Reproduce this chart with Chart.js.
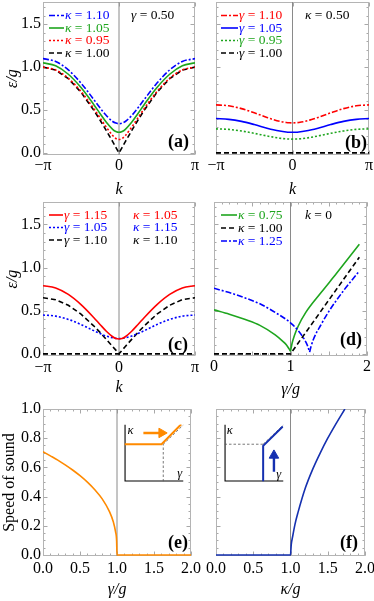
<!DOCTYPE html>
<html lang="en">
<head>
<meta charset="UTF-8">
<meta name="viewport" content="width=device-width, initial-scale=1.0">
<title>Excitation spectra and speed of sound</title>
<script src="https://cdn.jsdelivr.net/npm/chart.js@4"></script>
<style>
  html, body { margin: 0; padding: 0; background: #fff; }
  #figure { position: relative; width: 374px; height: 601px; overflow: hidden; background: #fff; }
  #figure canvas { position: absolute; }
</style>
</head>
<body>
<div id="figure">
  <canvas id="panel-a" width="205" height="200" style="left:0;top:0"></canvas>
  <canvas id="panel-b" width="179" height="200" style="left:195px;top:0"></canvas>
  <canvas id="panel-c" width="205" height="200" style="left:0;top:200px"></canvas>
  <canvas id="panel-d" width="179" height="200" style="left:195px;top:200px"></canvas>
  <canvas id="panel-e" width="205" height="201" style="left:0;top:400px"></canvas>
  <canvas id="panel-f" width="179" height="201" style="left:195px;top:400px"></canvas>
  <canvas id="inset-e" width="72" height="70" style="left:118px;top:418px"></canvas>
  <canvas id="inset-f" width="72" height="70" style="left:218px;top:418px"></canvas>
</div>
<script>
// ---- data ----
const kGrid = [-3.1416, -2.618, -2.0944, -1.5708, -1.0472, -0.7854, -0.5236, -0.2618, -0.1309, 0,
               0.1309, 0.2618, 0.5236, 0.7854, 1.0472, 1.5708, 2.0944, 2.618, 3.1416];
const zeros19 = [0, 0, 0, 0, 0, 0, 0, 0, 0, 0, 0, 0, 0, 0, 0, 0, 0, 0, 0];

// (a) gamma = 0.50
const aKappa110 = [1.100, 1.066, 0.968, 0.814, 0.624, 0.525, 0.435, 0.366, 0.347, 0.340, 0.347, 0.366, 0.435, 0.525, 0.624, 0.814, 0.968, 1.066, 1.100];
const aKappa105 = [1.050, 1.016, 0.917, 0.762, 0.565, 0.459, 0.357, 0.275, 0.249, 0.240, 0.249, 0.275, 0.357, 0.459, 0.565, 0.762, 0.917, 1.016, 1.050];
const aKappa095 = [1.000, 0.967, 0.870, 0.716, 0.518, 0.409, 0.299, 0.202, 0.168, 0.155, 0.168, 0.202, 0.299, 0.409, 0.518, 0.716, 0.870, 0.967, 1.000];
const aKappa100 = [1.000, 0.966, 0.866, 0.707, 0.500, 0.383, 0.259, 0.131, 0.065, 0.000, 0.065, 0.131, 0.259, 0.383, 0.500, 0.707, 0.866, 0.966, 1.000];

// (b) kappa = 0.50
const bGamma110 = [0.560, 0.549, 0.516, 0.467, 0.413, 0.388, 0.368, 0.355, 0.351, 0.350, 0.351, 0.355, 0.368, 0.388, 0.413, 0.467, 0.516, 0.549, 0.560];
const bGamma105 = [0.400, 0.391, 0.367, 0.330, 0.288, 0.269, 0.254, 0.244, 0.241, 0.240, 0.241, 0.244, 0.254, 0.269, 0.288, 0.330, 0.367, 0.391, 0.400];
const bGamma095 = [0.280, 0.274, 0.255, 0.228, 0.197, 0.183, 0.171, 0.163, 0.161, 0.160, 0.161, 0.163, 0.171, 0.183, 0.197, 0.228, 0.255, 0.274, 0.280];
const bGamma100 = zeros19;

// (c) gamma / kappa pairs
const cG115K105 = [0.790, 0.764, 0.689, 0.571, 0.422, 0.341, 0.262, 0.198, 0.177, 0.172, 0.177, 0.198, 0.262, 0.341, 0.422, 0.571, 0.689, 0.764, 0.790];
const cG105K115 = [0.450, 0.437, 0.399, 0.340, 0.269, 0.236, 0.206, 0.186, 0.179, 0.176, 0.179, 0.186, 0.206, 0.236, 0.269, 0.340, 0.399, 0.437, 0.450];
const cG110K110 = [0.650, 0.628, 0.563, 0.460, 0.325, 0.249, 0.168, 0.085, 0.043, 0.000, 0.043, 0.085, 0.168, 0.249, 0.325, 0.460, 0.563, 0.628, 0.650];
const cG110K110flat = zeros19;

// (d) k = 0, energy vs gamma/g
const dGreenLeftX  = [0, 0.2, 0.4, 0.6, 0.8, 0.9, 0.95, 0.98, 1.0];
const dGreenLeftY  = [0.51, 0.46, 0.40, 0.33, 0.22, 0.145, 0.10, 0.06, 0.03];
const dGreenRightX = [1.0, 1.02, 1.05, 1.1, 1.2, 1.4, 1.6, 1.9];
const dGreenRightY = [0.03, 0.12, 0.21, 0.32, 0.48, 0.71, 0.93, 1.27];
const dBlackX = [0, 1.0, 1.9];
const dBlackY = [0, 0, 1.12];
const dBlueLeftX  = [0, 0.2, 0.4, 0.6, 0.8, 1.0, 1.1, 1.18, 1.22, 1.25];
const dBlueLeftY  = [0.76, 0.71, 0.65, 0.58, 0.48, 0.36, 0.27, 0.17, 0.10, 0.02];
const dBlueRightX = [1.25, 1.27, 1.3, 1.4, 1.5, 1.7, 1.9];
const dBlueRightY = [0.02, 0.09, 0.17, 0.34, 0.49, 0.74, 0.96];

// (e) speed of sound vs gamma/g
const eGamma = [0, 0.1, 0.2, 0.3, 0.4, 0.5, 0.6, 0.7, 0.8, 0.9, 0.95, 0.98, 0.995, 1.0, 2.0];
const eSpeed = [0.707, 0.679, 0.650, 0.617, 0.582, 0.543, 0.499, 0.447, 0.384, 0.295, 0.227, 0.160, 0.094, 0, 0];

// (f) speed of sound vs kappa/g
const fKappa = [0, 1.0, 1.01, 1.03, 1.06, 1.1, 1.2, 1.3, 1.4, 1.5, 1.6, 1.73];
const fSpeed = [0, 0, 0.07, 0.13, 0.21, 0.29, 0.46, 0.59, 0.70, 0.80, 0.89, 1.0];

// insets: sketch of the (gamma, kappa) plane, unit box
const insetAxesX = [0, 0, 1];
const insetAxesY = [1, 0, 0];
const insetEPathX = [0, 0.628, 0.962];
const insetEPathY = [0.654, 0.654, 1.005];
const insetEDropX = [0.657, 0.657];
const insetEDropY = [0, 0.654];
const insetEDiagX = [0.657, 1.0];
const insetEDiagY = [0.654, 0.995];
const insetEArrowX = [0.32, 0.63];
const insetEArrowY = [0.852, 0.852];
const insetFLevelX = [0, 0.655];
const insetFLevelY = [0.654, 0.654];
const insetFPathX = [0.655, 0.655, 0.988];
const insetFPathY = [0, 0.625, 0.966];
const insetFDiagX = [0.655, 1.0];
const insetFDiagY = [0.654, 0.995];
const insetFArrowX = [0.838, 0.838];
const insetFArrowY = [0.17, 0.458];

// ---- styling ----
const SERIF = '"Liberation Serif", "DejaVu Serif", serif';
const BLUE = '#0000ff', GREEN = '#1ea51e', RED = '#ff0000', BLACK = '#000000';
const ORANGE = '#ff8a00', NAVY = '#1530b0';
const DASHED = [5, 3], DOTTED = [2, 2], DASHDOT = [6, 2, 2, 2];

function pts(xs, ys) { return xs.map((x, i) => ({ x: x, y: ys[i] })); }

function curve(xs, ys, color, dash, extra) {
  return Object.assign({
    data: pts(xs, ys),
    borderColor: color,
    backgroundColor: color,
    borderWidth: 1.6,
    borderDash: dash || [],
    cubicInterpolationMode: 'monotone',
    fill: false
  }, extra || {});
}

const straight = { cubicInterpolationMode: 'default', tension: 0 };

// thin grey vertical line at k = 0 or at 1
function guide(x, y0, y1) {
  return { data: [{ x: x, y: y0 }, { x: x, y: y1 }], borderColor: '#8a8a8a', borderWidth: 1, tension: 0 };
}

function steps(from, to, step) {
  const out = [];
  for (let v = from; v <= to + 1e-9; v += step) out.push(+v.toFixed(4));
  return out;
}

function fixSize(size, horizontal) {
  return function (scale) {
    if (horizontal) scale.height = size; else scale.width = size;
    scale.paddingLeft = scale.paddingRight = scale.paddingTop = scale.paddingBottom = 0;
  };
}

function keepTicks(values) {
  return function (scale) { scale.ticks = values.map(v => ({ value: v })); };
}

function drawRich(ctx, parts, x, y, size, color, align) {
  ctx.save();
  ctx.fillStyle = color;
  ctx.textBaseline = 'middle';
  ctx.textAlign = 'left';
  const fonts = parts.map(p => (p[1] || 'normal') + ' ' + size + 'px ' + SERIF);
  let total = 0;
  const widths = parts.map((p, i) => {
    ctx.font = fonts[i];
    const w = ctx.measureText(p[0]).width;
    total += w;
    return w;
  });
  let cx = align === 'right' ? x - total : (align === 'center' ? x - total / 2 : x);
  parts.forEach((p, i) => { ctx.font = fonts[i]; ctx.fillText(p[0], cx, y); cx += widths[i]; });
  ctx.restore();
}

function sym(s, rest) { return [[s, 'italic'], [rest, 'normal']]; }

// frame with inward ticks, Mathematica style
const framePlugin = {
  id: 'frame',
  beforeDatasetsDraw(chart, args, o) {
    const { ctx, chartArea: a } = chart;
    const sx = chart.scales.x, sy = chart.scales.y;
    const L = Math.round(a.left) + 0.5, R = Math.round(a.right) - 0.5;
    const T = Math.round(a.top) + 0.5, B = Math.round(a.bottom) - 0.5;
    ctx.save();
    ctx.lineWidth = 1;
    ctx.strokeStyle = '#a8a8a8';
    ctx.beginPath();
    const vx = (vals, len) => vals.forEach(v => {
      if (v < sx.min || v > sx.max) return;
      const p = Math.round(sx.getPixelForValue(v)) + 0.5;
      ctx.moveTo(p, B); ctx.lineTo(p, B - len);
      ctx.moveTo(p, T); ctx.lineTo(p, T + len);
    });
    const vy = (vals, len) => vals.forEach(v => {
      if (v < sy.min || v > sy.max) return;
      const p = Math.round(sy.getPixelForValue(v)) + 0.5;
      ctx.moveTo(L, p); ctx.lineTo(L + len, p);
      ctx.moveTo(R, p); ctx.lineTo(R - len, p);
    });
    vx(o.xMajor || [], 4); vx(o.xMinor || [], 2);
    vy(o.yMajor || [], 4); vy(o.yMinor || [], 2);
    ctx.stroke();
    ctx.strokeStyle = '#b4b4b4';
    ctx.strokeRect(L, T, R - L, B - T);
    ctx.restore();
  }
};

// in-plot legends, annotations and panel letters
const notesPlugin = {
  id: 'notes',
  afterDatasetsDraw(chart, args, o) {
    const { ctx, chartArea: a } = chart;
    (o.items || []).forEach(it => {
      const px = it.right !== undefined ? a.right - it.right : a.left + it.left;
      const py = it.bottom !== undefined ? a.bottom - it.bottom : a.top + it.top;
      let tx = px;
      let color = it.color || '#000';
      if (it.sample !== undefined) {
        const ds = chart.data.datasets[it.sample];
        ctx.save();
        ctx.strokeStyle = ds.borderColor;
        ctx.lineWidth = ds.borderWidth;
        ctx.setLineDash(ds.borderDash || []);
        ctx.beginPath();
        ctx.moveTo(px, py);
        ctx.lineTo(px + o.sampleLen, py);
        ctx.stroke();
        ctx.restore();
        tx = px + o.sampleLen + 1;
        color = it.color || ds.borderColor;
      }
      drawRich(ctx, it.parts, tx, py, it.size || o.size || 13, color, it.align || 'left');
    });
  }
};

function panel(id, p) {
  const tickFont = { family: SERIF, size: 16 };
  const yScale = p.yTitle ? {
    type: 'linear', min: p.yRange[0], max: p.yRange[1],
    grid: { display: false, drawTicks: false }, border: { display: false },
    ticks: { autoSkip: false, padding: 2, font: tickFont, color: '#000', callback: v => v.toFixed(1) },
    title: { display: true, text: p.yTitle, color: '#000',
             font: { family: SERIF, size: 16, style: p.yTitleStyle || 'italic' },
             padding: { top: p.yTitlePad, bottom: 0 } },
    afterBuildTicks: keepTicks(p.yTicks),
    afterFit: fixSize(43, false)
  } : { type: 'linear', min: p.yRange[0], max: p.yRange[1], display: false };

  return new Chart(document.getElementById(id), {
    type: 'line',
    data: { datasets: p.datasets },
    options: {
      responsive: false,
      devicePixelRatio: 1,
      animation: false,
      events: [],
      layout: { padding: p.padding },
      elements: { point: { radius: 0, hoverRadius: 0 } },
      scales: {
        x: {
          type: 'linear', position: 'bottom', min: p.xRange[0], max: p.xRange[1],
          grid: { display: false, drawTicks: false }, border: { display: false },
          ticks: { autoSkip: false, maxRotation: 0, padding: p.xTickPad, font: tickFont, color: '#000', callback: p.xFormat },
          title: { display: true, text: p.xTitle, color: '#000',
                   font: { family: SERIF, size: 16, style: 'italic' },
                   padding: { top: 0, bottom: p.xTitlePad } },
          afterBuildTicks: keepTicks(p.xTicks),
          afterFit: fixSize(p.xHeight, true)
        },
        y: yScale
      },
      plugins: {
        legend: { display: false },
        tooltip: { enabled: false },
        frame: p.frame,
        notes: p.notes
      }
    },
    plugins: [framePlugin, notesPlugin]
  });
}

function inset(id, datasets, notes) {
  return new Chart(document.getElementById(id), {
    type: 'line',
    data: { datasets: datasets },
    options: {
      responsive: false,
      devicePixelRatio: 1,
      animation: false,
      events: [],
      layout: { padding: { left: 6, right: 6, top: 5, bottom: 6.3 } },
      elements: { point: { radius: 0, hoverRadius: 0 }, line: { tension: 0 } },
      scales: {
        x: { type: 'linear', min: 0, max: 1, display: false },
        y: { type: 'linear', min: 0, max: 1, display: false }
      },
      plugins: { legend: { display: false }, tooltip: { enabled: false }, notes: notes }
    },
    plugins: [notesPlugin]
  });
}

const PI = Math.PI;
const kFormat = v => (v < -1 ? '\u2212\u03c0' : (v > 1 ? '\u03c0' : '0'));
const kFrame = { xMajor: [-PI, 0, PI], xMinor: [], yMajor: [0, 0.5, 1, 1.5], yMinor: steps(0, 1.7, 0.1) };
const E_RANGE = [-0.025, 1.76];
const LEG = 13.5, TAG = 18;

// (a)
panel('panel-a', {
  padding: { left: 0, top: 2, right: 10, bottom: 0 },
  xRange: [-PI, PI], yRange: E_RANGE,
  xTicks: [-PI, 0, PI], xFormat: kFormat, xTitle: 'k', xHeight: 45, xTickPad: 1, xTitlePad: 0.5,
  yTicks: [0, 0.5, 1, 1.5], yTitle: '\u03b5/g', yTitlePad: 3,
  frame: kFrame,
  datasets: [
    curve(kGrid, aKappa110, BLUE, DASHDOT),
    curve(kGrid, aKappa105, GREEN, []),
    curve(kGrid, aKappa095, RED, DOTTED),
    curve(kGrid, aKappa100, BLACK, DASHED, straight),
    guide(0, E_RANGE[0], E_RANGE[1])
  ],
  notes: {
    sampleLen: 15, size: LEG,
    items: [
      { left: 6, top: 13.5, sample: 0, parts: sym('\u03ba', ' = 1.10') },
      { left: 6, top: 26, sample: 1, parts: sym('\u03ba', ' = 1.05') },
      { left: 6, top: 38.5, sample: 2, parts: sym('\u03ba', ' = 0.95') },
      { left: 6, top: 51, sample: 3, parts: sym('\u03ba', ' = 1.00') },
      { left: 88, top: 13.5, parts: sym('\u03b3', ' = 0.50') },
      { right: 6, bottom: 13, size: TAG, align: 'right', parts: [['(a)', 'bold']] }
    ]
  }
});

// (b)
panel('panel-b', {
  padding: { left: 21, top: 2, right: 5, bottom: 0 },
  xRange: [-PI, PI], yRange: E_RANGE,
  xTicks: [-PI, 0, PI], xFormat: kFormat, xTitle: 'k', xHeight: 45, xTickPad: 1, xTitlePad: 0.5,
  frame: kFrame,
  datasets: [
    curve(kGrid, bGamma110, RED, DASHDOT),
    curve(kGrid, bGamma105, BLUE, []),
    curve(kGrid, bGamma095, GREEN, DOTTED),
    curve(kGrid, bGamma100, BLACK, DASHED, straight),
    guide(0, E_RANGE[0], E_RANGE[1])
  ],
  notes: {
    sampleLen: 17, size: LEG,
    items: [
      { left: 5, top: 13.5, sample: 0, parts: sym('\u03b3', ' = 1.10') },
      { left: 5, top: 26, sample: 1, parts: sym('\u03b3', ' = 1.05') },
      { left: 5, top: 38.5, sample: 2, parts: sym('\u03b3', ' = 0.95') },
      { left: 5, top: 51, sample: 3, parts: sym('\u03b3', ' = 1.00') },
      { left: 89, top: 13.5, parts: sym('\u03ba', ' = 0.50') },
      { right: 2, bottom: 12, size: TAG, align: 'right', parts: [['(b)', 'bold']] }
    ]
  }
});

// (c)
panel('panel-c', {
  padding: { left: 0, top: 2, right: 10, bottom: 0 },
  xRange: [-PI, PI], yRange: E_RANGE,
  xTicks: [-PI, 0, PI], xFormat: kFormat, xTitle: 'k', xHeight: 44, xTickPad: 2, xTitlePad: 3,
  yTicks: [0, 0.5, 1, 1.5], yTitle: '\u03b5/g', yTitlePad: 3,
  frame: kFrame,
  datasets: [
    curve(kGrid, cG115K105, RED, []),
    curve(kGrid, cG105K115, BLUE, DOTTED),
    curve(kGrid, cG110K110, BLACK, DASHED, straight),
    curve(kGrid, cG110K110flat, BLACK, DASHED, straight),
    guide(0, E_RANGE[0], E_RANGE[1])
  ],
  notes: {
    sampleLen: 14, size: LEG,
    items: [
      { left: 6, top: 13, sample: 0, parts: sym('\u03b3', ' = 1.15') },
      { left: 6, top: 25.5, sample: 1, parts: sym('\u03b3', ' = 1.05') },
      { left: 6, top: 38, sample: 2, parts: sym('\u03b3', ' = 1.10') },
      { left: 90, top: 13, color: RED, parts: sym('\u03ba', ' = 1.05') },
      { left: 90, top: 25.5, color: BLUE, parts: sym('\u03ba', ' = 1.15') },
      { left: 90, top: 38, color: BLACK, parts: sym('\u03ba', ' = 1.10') },
      { right: 7, bottom: 11, size: TAG, align: 'right', parts: [['(c)', 'bold']] }
    ]
  }
});

// (d)
panel('panel-d', {
  padding: { left: 19, top: 2, right: 7, bottom: 0 },
  xRange: [0, 2], yRange: E_RANGE,
  xTicks: [0, 1, 2], xFormat: v => String(v), xTitle: '\u03b3/g', xHeight: 44, xTickPad: 1, xTitlePad: 1,
  frame: { xMajor: [0, 0.5, 1, 1.5, 2], xMinor: steps(0, 2, 0.1), yMajor: [0, 0.5, 1, 1.5], yMinor: steps(0, 1.7, 0.1) },
  datasets: [
    curve(dGreenLeftX, dGreenLeftY, GREEN, []),
    curve(dBlackX, dBlackY, BLACK, DASHED, straight),
    curve(dBlueLeftX, dBlueLeftY, BLUE, DASHDOT),
    curve(dGreenRightX, dGreenRightY, GREEN, []),
    curve(dBlueRightX, dBlueRightY, BLUE, DASHDOT),
    guide(1, E_RANGE[0], E_RANGE[1])
  ],
  notes: {
    sampleLen: 16, size: LEG,
    items: [
      { left: 7, top: 13, sample: 0, parts: sym('\u03ba', ' = 0.75') },
      { left: 7, top: 26, sample: 1, parts: sym('\u03ba', ' = 1.00') },
      { left: 7, top: 39, sample: 2, parts: sym('\u03ba', ' = 1.25') },
      { left: 91, top: 13, parts: sym('k', ' = 0') },
      { right: 5, bottom: 16, size: TAG, align: 'right', parts: [['(d)', 'bold']] }
    ]
  }
});

const S_RANGE = [-0.007, 1.0];
const sFrame = { xMajor: [0, 0.5, 1, 1.5, 2], xMinor: steps(0, 2, 0.1), yMajor: steps(0, 1, 0.2), yMinor: steps(0, 1, 0.05) };

// (e)
panel('panel-e', {
  padding: { left: 0, top: 9, right: 14, bottom: 0 },
  xRange: [0, 2], yRange: S_RANGE,
  xTicks: [0, 0.5, 1, 1.5, 2], xFormat: v => v.toFixed(1), xTitle: '\u03b3/g', xHeight: 45, xTickPad: 3, xTitlePad: 1.5,
  yTicks: [0, 0.2, 0.4, 0.6, 0.8, 1.0], yTitle: 'Speed of sound', yTitleStyle: 'normal', yTitlePad: 0.5,
  frame: sFrame,
  datasets: [
    curve(eGamma, eSpeed, ORANGE, []),
    guide(1, S_RANGE[0], S_RANGE[1])
  ],
  notes: { items: [{ right: 3, bottom: 12.5, size: TAG, align: 'right', parts: [['(e)', 'bold']] }] }
});

// (f)
panel('panel-f', {
  padding: { left: 21, top: 9, right: 9, bottom: 0 },
  xRange: [0, 2], yRange: S_RANGE,
  xTicks: [0, 0.5, 1, 1.5, 2], xFormat: v => v.toFixed(1), xTitle: '\u03ba/g', xHeight: 45, xTickPad: 3, xTitlePad: 1.5,
  frame: sFrame,
  datasets: [
    curve(fKappa, fSpeed, NAVY, []),
    guide(1, S_RANGE[0], S_RANGE[1])
  ],
  notes: { items: [{ right: 7, bottom: 13, size: TAG, align: 'right', parts: [['(f)', 'bold']] }] }
});

// insets
const thin = { borderColor: '#555', borderWidth: 0.8, borderDash: [2.5, 2] };
inset('inset-e', [
  { data: pts(insetEArrowX, insetEArrowY), borderColor: ORANGE, borderWidth: 2.4,
    pointStyle: 'triangle', pointRadius: [0, 5.5], pointRotation: 90,
    pointBackgroundColor: ORANGE, pointBorderColor: ORANGE, pointBorderWidth: 1 },
  { data: pts(insetEPathX, insetEPathY), borderColor: ORANGE, borderWidth: 2 },
  Object.assign({ data: pts(insetEDropX, insetEDropY) }, thin),
  Object.assign({ data: pts(insetEDiagX, insetEDiagY) }, thin),
  { data: pts(insetAxesX, insetAxesY), borderColor: BLACK, borderWidth: 2.2 }
], {
  items: [
    { left: 6, top: 6.3, size: 12.5, align: 'center', parts: [['\u03ba', 'italic']] },
    { left: 55.3, top: 49.7, size: 12.5, align: 'center', parts: [['\u03b3', 'italic']] }
  ]
});

inset('inset-f', [
  { data: pts(insetFArrowX, insetFArrowY), borderColor: NAVY, borderWidth: 2.4,
    pointStyle: 'triangle', pointRadius: [0, 5.5], pointRotation: 0,
    pointBackgroundColor: NAVY, pointBorderColor: NAVY, pointBorderWidth: 1 },
  { data: pts(insetFPathX, insetFPathY), borderColor: NAVY, borderWidth: 2 },
  Object.assign({ data: pts(insetFLevelX, insetFLevelY) }, thin),
  Object.assign({ data: pts(insetFDiagX, insetFDiagY) }, thin),
  { data: pts(insetAxesX, insetAxesY), borderColor: BLACK, borderWidth: 2.2 }
], {
  items: [
    { left: 5.3, top: 6.3, size: 12.5, align: 'center', parts: [['\u03ba', 'italic']] },
    { left: 54.3, top: 50.3, size: 12.5, align: 'center', parts: [['\u03b3', 'italic']] }
  ]
});
</script>
</body>
</html>
